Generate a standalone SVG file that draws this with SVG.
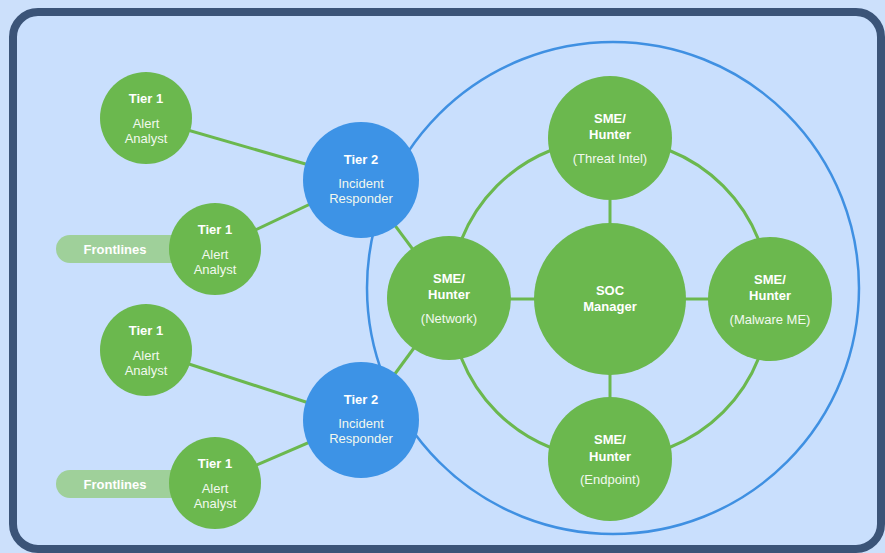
<svg xmlns="http://www.w3.org/2000/svg" width="885" height="553" viewBox="0 0 885 553">
<style>
.t1{fill:#6bb84e}
.t2{fill:#3d93e6}
.ln{stroke:#6bb84e;stroke-width:3;fill:none}
.b{font-family:"Liberation Sans","DejaVu Sans",sans-serif;font-weight:bold;font-size:13px;fill:#fff;text-anchor:middle}
.r{font-family:"Liberation Sans","DejaVu Sans",sans-serif;font-size:13px;fill:#f2f8ee;text-anchor:middle}
.pill{fill:#9fd09a}
</style>
<rect x="0" y="0" width="885" height="553" fill="#cce0fb"/>
<rect x="13" y="12" width="868" height="537" rx="25" ry="25" fill="#c9dffd" stroke="#3b5478" stroke-width="8"/>
<circle cx="613" cy="288" r="246" fill="none" stroke="#3f90e2" stroke-width="2.5"/>
<g id="connectors">
<circle class="ln" cx="610" cy="299" r="160"/>
<line class="ln" x1="610" y1="200" x2="610" y2="230"/>
<line class="ln" x1="610" y1="370" x2="610" y2="400"/>
<line class="ln" x1="510" y1="299" x2="540" y2="299"/>
<line class="ln" x1="680" y1="299" x2="710" y2="299"/>
<line class="ln" x1="146" y1="118" x2="361" y2="180"/>
<line class="ln" x1="215" y1="249" x2="361" y2="180"/>
<line class="ln" x1="361" y1="180" x2="450" y2="299"/>
<line class="ln" x1="146" y1="350" x2="361" y2="420"/>
<line class="ln" x1="215" y1="483" x2="361" y2="420"/>
<line class="ln" x1="361" y1="420" x2="450" y2="299"/>
</g>
<g id="frontlines1"><rect class="pill" x="56" y="235" width="150" height="28" rx="14"/><text class="b" x="115" y="254">Frontlines</text></g>
<g id="frontlines2"><rect class="pill" x="56" y="470" width="150" height="28" rx="14"/><text class="b" x="115" y="489">Frontlines</text></g>
<g id="t1a"><circle class="t1" cx="146" cy="118" r="46"/><text class="b" x="146" y="103">Tier 1</text><text class="r" x="146" y="128">Alert</text><text class="r" x="146" y="143">Analyst</text></g>
<g id="t1b"><circle class="t1" cx="215" cy="249" r="46"/><text class="b" x="215" y="234">Tier 1</text><text class="r" x="215" y="259">Alert</text><text class="r" x="215" y="274">Analyst</text></g>
<g id="t1c"><circle class="t1" cx="146" cy="350" r="46"/><text class="b" x="146" y="335">Tier 1</text><text class="r" x="146" y="360">Alert</text><text class="r" x="146" y="375">Analyst</text></g>
<g id="t1d"><circle class="t1" cx="215" cy="483" r="46"/><text class="b" x="215" y="468">Tier 1</text><text class="r" x="215" y="493">Alert</text><text class="r" x="215" y="508">Analyst</text></g>
<g id="t2a"><circle class="t2" cx="361" cy="180" r="58"/><text class="b" x="361" y="164">Tier 2</text><text class="r" x="361" y="188">Incident</text><text class="r" x="361" y="203">Responder</text></g>
<g id="t2b"><circle class="t2" cx="361" cy="420" r="58"/><text class="b" x="361" y="404">Tier 2</text><text class="r" x="361" y="428">Incident</text><text class="r" x="361" y="443">Responder</text></g>
<g id="soc"><circle class="t1" cx="610" cy="299" r="76"/><text class="b" x="610" y="295">SOC</text><text class="b" x="610" y="311">Manager</text></g>
<g id="threat"><circle class="t1" cx="610" cy="138" r="62"/><text class="b" x="610" y="123">SME/</text><text class="b" x="610" y="139">Hunter</text><text class="r" x="610" y="163">(Threat Intel)</text></g>
<g id="network"><circle class="t1" cx="449" cy="298" r="62"/><text class="b" x="449" y="283">SME/</text><text class="b" x="449" y="299">Hunter</text><text class="r" x="449" y="323">(Network)</text></g>
<g id="malware"><circle class="t1" cx="770" cy="299" r="62"/><text class="b" x="770" y="284">SME/</text><text class="b" x="770" y="300">Hunter</text><text class="r" x="770" y="324">(Malware ME)</text></g>
<g id="endpoint"><circle class="t1" cx="610" cy="459" r="62"/><text class="b" x="610" y="444">SME/</text><text class="b" x="610" y="461">Hunter</text><text class="r" x="610" y="484">(Endpoint)</text></g>
</svg>
